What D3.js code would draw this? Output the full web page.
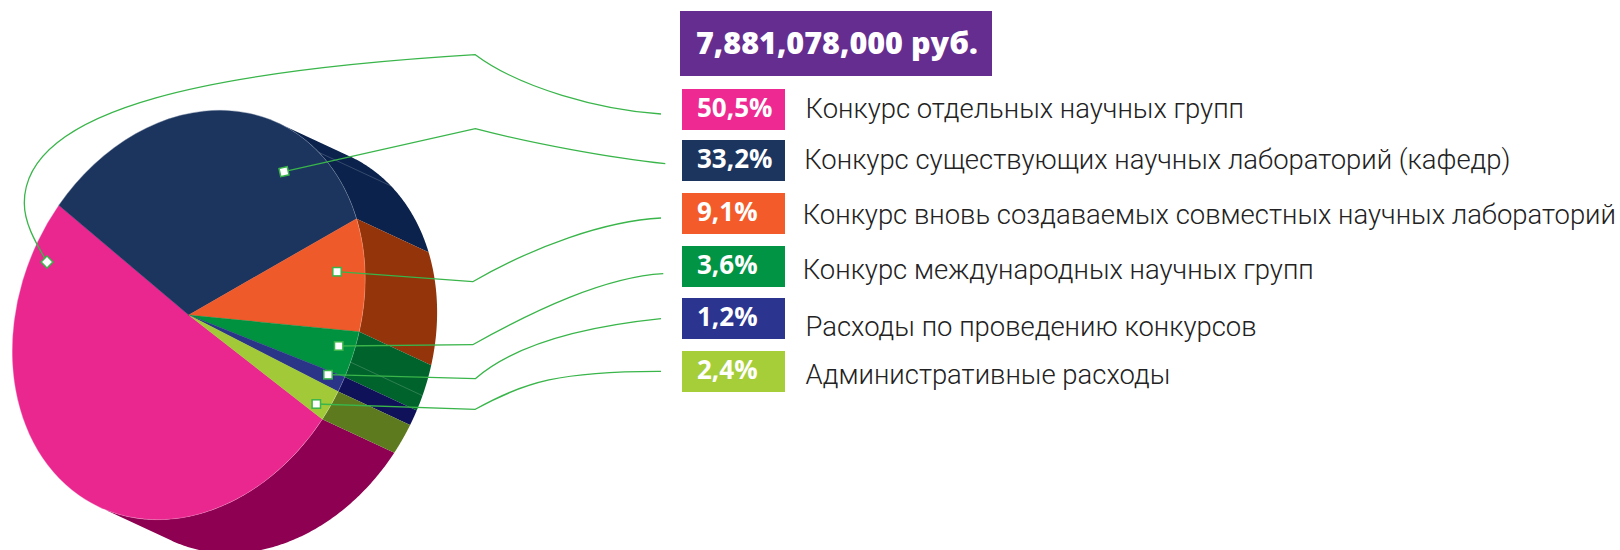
<!DOCTYPE html>
<html><head><meta charset="utf-8">
<script src="https://cdn.jsdelivr.net/npm/d3@7"></script>
<style>
html,body{margin:0;padding:0;background:#fff}
svg{display:block}
.lab{font-family:"Roboto Light",Roboto,sans-serif;font-weight:300;font-size:27.45px;fill:#222}
.pct{font-family:"Open Sans",sans-serif;font-weight:700;font-size:26px;fill:#fff}
.ttl{font-family:"Open Sans",sans-serif;font-weight:800;font-size:30.5px;fill:#fff}
</style></head><body>
<svg id="c" width="1620" height="550"></svg>
<script>
// ---- data ----
const totalLabel = "7,881,078,000 руб.";
const categories = ["Конкурс отдельных научных групп","Конкурс существующих научных лабораторий (кафедр)","Конкурс вновь создаваемых совместных научных лабораторий","Конкурс международных научных групп","Расходы по проведению конкурсов","Административные расходы"];
const values = [50.5,33.2,9.1,3.6,1.2,2.4];
const valueLabels = ["50,5%","33,2%","9,1%","3,6%","1,2%","2,4%"];
const faceColors = ["#e9278f","#1b355f","#ee5a2a","#00923f","#2b3588","#a2c937"];
const sideColors = ["#8e0051","#0a224c","#93340a","#00632b","#0f1258","#5d7a1f"];
const legendColors = ["#ee2a92","#1b355f","#f35b2a","#009444","#2b3590","#a6ce39"];
const sideSeams = [76.9,95.2]; // percent positions of hairlines on the wall

// ---- layout ----
const svg = d3.select("#c");
const R = 100;
const mat = {a:-1.152,b:1.762,c:-1.336,d:-1.042,e:188.7,f:315}; // oblique projection of the pie plane
const wall = {x:72,y:33.5};
const proj = (ang)=>{const ux=R*Math.sin(ang),uy=-R*Math.cos(ang);
  return [mat.a*ux+mat.c*uy+mat.e, mat.b*ux+mat.d*uy+mat.f];};
const arcs = d3.pie().sort(null).startAngle(0).endAngle(2*Math.PI)(values);
const arcGen = d3.arc().innerRadius(0).outerRadius(R);
const pctToAngle = d3.scaleLinear().domain([0,d3.sum(values)]).range([0,2*Math.PI]);
const lineGen = d3.line();
const rimPts = (a0,a1)=>d3.range(0,121).map(i=>proj(a0+(a1-a0)*i/120));

// the wall is visible only between the two rim points whose tangent runs along the extrusion
const det = mat.a*mat.d-mat.b*mat.c;
const vx = ( mat.d*wall.x-mat.c*wall.y)/det, vy = (-mat.b*wall.x+mat.a*wall.y)/det;
const tA = (Math.atan2(vy,vx)+2*Math.PI)%(2*Math.PI);
const visEnd = tA<Math.PI?tA:tA-Math.PI, visStart = visEnd+Math.PI;
const wallRange = d=>{
  let a0=d.startAngle,a1=d.endAngle;
  if(a1<=visEnd||a0>=visStart) return [a0,a1];
  if(a0<visEnd) return [a0,visEnd];
  if(a1>visStart) return [visStart,a1];
  return null;
};

// walls
svg.append("g").selectAll("path").data(arcs).join("path")
  .attr("d",d=>{const g=wallRange(d); if(!g) return null;
    const r=rimPts(g[0],g[1]);
    const o=r.map(p=>[p[0]+wall.x,p[1]+wall.y]).reverse();
    return lineGen(r.concat(o))+"Z";})
  .attr("fill",(d,i)=>sideColors[i]);
// wall hairlines
svg.append("g").selectAll("line").data(sideSeams).join("line")
  .each(function(p){const q=proj(pctToAngle(p));
    d3.select(this).attr("x1",q[0]).attr("y1",q[1]).attr("x2",q[0]+wall.x).attr("y2",q[1]+wall.y);})
  .attr("stroke","#fff").attr("stroke-opacity",.3).attr("stroke-width",.6);
// top faces
const faceLayer = svg.append("g").attr("transform",`matrix(${mat.a},${mat.b},${mat.c},${mat.d},${mat.e},${mat.f})`);
faceLayer.selectAll("path").data(arcs).join("path")
  .attr("d",arcGen).attr("fill",(d,i)=>faceColors[i])
  .attr("stroke",(d,i)=>faceColors[i]).attr("stroke-width",.15);
// rim hairline
svg.append("path").attr("d",lineGen(rimPts(0,2*Math.PI))+"Z").attr("fill","none")
  .attr("stroke","#fff").attr("stroke-opacity",.35).attr("stroke-width",.5);

// leaders
const leaderPaths = [
 "M47,262C34,240 24.3,222 24.3,203C24.3,105 225,70 475.3,54.7C520,88 600,110 661,114",
 "M284,171.7L475.3,128.7C530,143 610,158 665.3,163.7",
 "M337,271.7L472.7,281.7C535,246 605,221 661,218",
 "M338.7,346L472.7,344.7C535,310 605,277 663.3,273.7",
 "M328,374.7L475.3,378.7C520,340 600,325 661,318.7",
 "M316.3,404L475.3,409.3C525,382 560,371 661,371.3"];
const markers = [[47,262,45],[284,171.7,-12],[337,271.7,0],[338.7,346,0],[328,374.7,0],[316.3,404,0]];
svg.append("g").selectAll("path").data(leaderPaths).join("path")
  .attr("d",d=>d).attr("fill","none").attr("stroke","#39b54a").attr("stroke-width",1.3);
svg.append("g").selectAll("rect").data(markers).join("rect")
  .attr("x",-4.2).attr("y",-4.2).attr("width",8.4).attr("height",8.4)
  .attr("transform",d=>`translate(${d[0]},${d[1]}) rotate(${d[2]})`)
  .attr("fill","#fff").attr("stroke","#39b54a").attr("stroke-width",1.5);

// title
svg.append("rect").attr("x",680).attr("y",11).attr("width",312).attr("height",65).attr("fill","#662d91");
svg.append("text").attr("class","ttl").attr("x",696).attr("y",54).text(totalLabel);

// legend
const boxY = [89,140,193,246,298,351];
const pctBase = [117,168,220.7,273.7,326,379];
const labX = [805.5,804.2,802.7,802.7,805.5,805.5];
const labBase = [118,169.2,224,278.7,336,383.7];
const lg = svg.append("g");
categories.forEach((c,i)=>{
  lg.append("rect").attr("x",682).attr("y",boxY[i]).attr("width",103).attr("height",41).attr("fill",legendColors[i]);
  lg.append("text").attr("class","pct").attr("x",697).attr("y",pctBase[i]).text(valueLabels[i]);
  lg.append("text").attr("class","lab").attr("x",labX[i]).attr("y",labBase[i]).text(c);
});
</script>
</body></html>
